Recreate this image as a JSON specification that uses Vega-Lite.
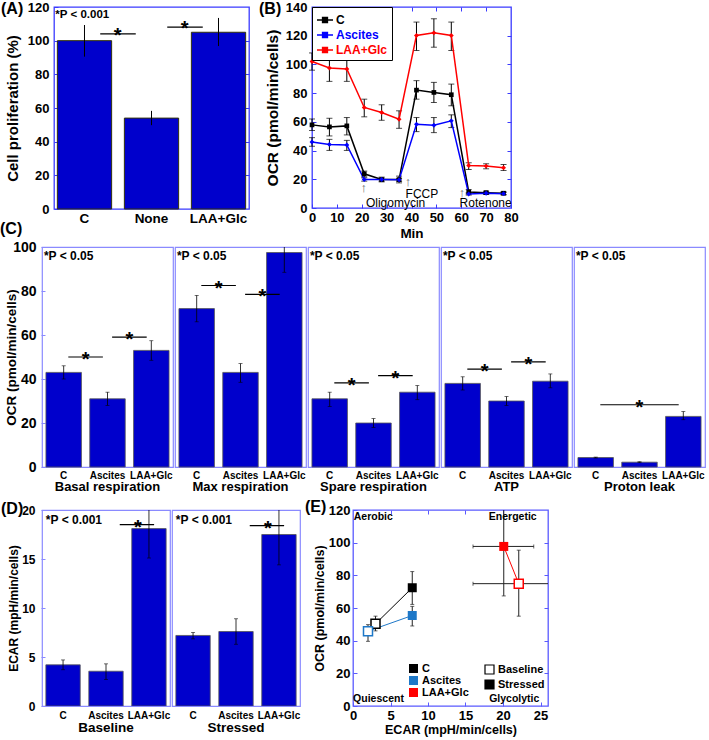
{
"$schema":"https://vega.github.io/schema/vega-lite/v6.json",
"padding":0,
"background":"white",
"config":{
 "font":"Liberation Sans",
 "axis":{"grid":false,"domain":false,"ticks":false,"labelFont":"Liberation Sans","titleFont":"Liberation Sans","labelFontWeight":"bold","titleFontWeight":"bold","labelColor":"#000000","titleColor":"#000000","labelFlush":false,"labelOverlap":false,"tickCount":12},
 "header":{"labelFont":"Liberation Sans","labelFontWeight":"bold","labelColor":"#000000"},
 "title":{"font":"Liberation Sans","fontWeight":"bold","fontSize":16,"color":"#000000","anchor":"start","frame":"group","offset":0},
 "legend":{"labelFont":"Liberation Sans","labelColor":"#000000"},
 "view":{"stroke":"#8a8aff","strokeWidth":1.2},
 "text":{"font":"Liberation Sans"}
},
"datasets":{
 "A":[
  {"group":"C","value":100,"lo":90.5,"hi":109.3},
  {"group":"None","value":54,"lo":49.8,"hi":58.3},
  {"group":"LAA+Glc","value":105,"lo":96.8,"hi":113.5}
 ],
 "Asig":[{"from":"C","to":"None","y":104},{"from":"None","to":"LAA+Glc","y":108}],
 "Anote":[{"group":"C","y":115,"label":"*P < 0.001"}],
 "B":[
  {"group":"C","t":0,"v":57.9,"lo":54,"hi":62},
  {"group":"C","t":7,"v":56.5,"lo":50.2,"hi":62.5},
  {"group":"C","t":14,"v":57.2,"lo":50.9,"hi":63},
  {"group":"C","t":21,"v":23.8,"lo":21.7,"hi":25.7},
  {"group":"C","t":28,"v":19.8,"lo":18.2,"hi":21.5},
  {"group":"C","t":35,"v":19.8,"lo":17.5,"hi":22.2},
  {"group":"C","t":42,"v":82.1,"lo":75.8,"hi":88.7},
  {"group":"C","t":49,"v":80.5,"lo":73.5,"hi":87.5},
  {"group":"C","t":56,"v":78.9,"lo":71.2,"hi":86.3},
  {"group":"C","t":63,"v":11.2,"lo":9.8,"hi":12.8},
  {"group":"C","t":70,"v":10.7,"lo":9.7,"hi":11.7},
  {"group":"C","t":77,"v":10.3,"lo":9.3,"hi":11.3},
  {"group":"Ascites","t":0,"v":46,"lo":43,"hi":49},
  {"group":"Ascites","t":7,"v":44.3,"lo":40.1,"hi":47.8},
  {"group":"Ascites","t":14,"v":43.9,"lo":40.1,"hi":47.1},
  {"group":"Ascites","t":21,"v":19.8,"lo":18.7,"hi":21},
  {"group":"Ascites","t":28,"v":19.8,"lo":18.8,"hi":20.8},
  {"group":"Ascites","t":35,"v":19.6,"lo":18.6,"hi":20.6},
  {"group":"Ascites","t":42,"v":58.3,"lo":53.2,"hi":63},
  {"group":"Ascites","t":49,"v":57.6,"lo":52.5,"hi":63},
  {"group":"Ascites","t":56,"v":60.7,"lo":56,"hi":64.9},
  {"group":"Ascites","t":63,"v":9.8,"lo":9,"hi":10.6},
  {"group":"Ascites","t":70,"v":10.3,"lo":9.5,"hi":11.1},
  {"group":"Ascites","t":77,"v":10,"lo":9.2,"hi":10.8},
  {"group":"LAA+Glc","t":0,"v":102,"lo":96,"hi":108},
  {"group":"LAA+Glc","t":7,"v":97.5,"lo":88.2,"hi":106.9},
  {"group":"LAA+Glc","t":14,"v":96.8,"lo":88.2,"hi":106.9},
  {"group":"LAA+Glc","t":21,"v":70,"lo":63.5,"hi":75.8},
  {"group":"LAA+Glc","t":28,"v":66.5,"lo":61.1,"hi":71.9},
  {"group":"LAA+Glc","t":35,"v":61.8,"lo":55.5,"hi":67.7},
  {"group":"LAA+Glc","t":42,"v":120.2,"lo":109.7,"hi":129.5},
  {"group":"LAA+Glc","t":49,"v":122,"lo":112,"hi":131.8},
  {"group":"LAA+Glc","t":56,"v":120.2,"lo":109.7,"hi":129.5},
  {"group":"LAA+Glc","t":63,"v":29.6,"lo":26.8,"hi":31.5},
  {"group":"LAA+Glc","t":70,"v":29.2,"lo":27.3,"hi":30.8},
  {"group":"LAA+Glc","t":77,"v":28,"lo":26.1,"hi":30.3}
 ],
 "Bnotes":[
  {"label":"↑","t":20.8,"v":14},
  {"label":"Oligomycin","t":33.6,"v":3.5},
  {"label":"↑","t":38.6,"v":18},
  {"label":"FCCP","t":44.2,"v":10},
  {"label":"↑","t":60.3,"v":10.5},
  {"label":"Rotenone","t":69.8,"v":3.5}
 ],
 "C":[
  {"kind":"bar","panel":"Basal respiration","group":"C","value":43,"lo":40,"hi":46},
  {"kind":"bar","panel":"Basal respiration","group":"Ascites","value":31,"lo":28,"hi":34},
  {"kind":"bar","panel":"Basal respiration","group":"LAA+Glc","value":53,"lo":48.5,"hi":57.4},
  {"kind":"bar","panel":"Max respiration","group":"C","value":72,"lo":66,"hi":78},
  {"kind":"bar","panel":"Max respiration","group":"Ascites","value":43,"lo":38.5,"hi":47},
  {"kind":"bar","panel":"Max respiration","group":"LAA+Glc","value":97.5,"lo":88.5,"hi":106},
  {"kind":"bar","panel":"Spare respiration","group":"C","value":31,"lo":27.5,"hi":34},
  {"kind":"bar","panel":"Spare respiration","group":"Ascites","value":20,"lo":18,"hi":22},
  {"kind":"bar","panel":"Spare respiration","group":"LAA+Glc","value":34,"lo":30.6,"hi":37},
  {"kind":"bar","panel":"ATP","group":"C","value":38,"lo":35,"hi":41},
  {"kind":"bar","panel":"ATP","group":"Ascites","value":30,"lo":28,"hi":32},
  {"kind":"bar","panel":"ATP","group":"LAA+Glc","value":39,"lo":36,"hi":42.3},
  {"kind":"bar","panel":"Proton leak","group":"C","value":4.3,"lo":4.1,"hi":4.5},
  {"kind":"bar","panel":"Proton leak","group":"Ascites","value":2.2,"lo":2,"hi":2.4},
  {"kind":"bar","panel":"Proton leak","group":"LAA+Glc","value":23,"lo":21.5,"hi":25.2},
  {"kind":"sig","panel":"Basal respiration","from":"C","to":"Ascites","y":50},
  {"kind":"sig","panel":"Basal respiration","from":"Ascites","to":"LAA+Glc","y":59},
  {"kind":"sig","panel":"Max respiration","from":"C","to":"Ascites","y":82.5},
  {"kind":"sig","panel":"Max respiration","from":"Ascites","to":"LAA+Glc","y":78.5},
  {"kind":"sig","panel":"Spare respiration","from":"C","to":"Ascites","y":38.2},
  {"kind":"sig","panel":"Spare respiration","from":"Ascites","to":"LAA+Glc","y":41.5},
  {"kind":"sig","panel":"ATP","from":"C","to":"Ascites","y":44.5},
  {"kind":"sig","panel":"ATP","from":"Ascites","to":"LAA+Glc","y":47.8},
  {"kind":"sig","panel":"Proton leak","from":"C","to":"LAA+Glc","mid":"Ascites","y":28.3},
  {"kind":"note","panel":"Basal respiration","group":"C","y":96,"label":"*P < 0.05"},
  {"kind":"note","panel":"Max respiration","group":"C","y":96,"label":"*P < 0.05"},
  {"kind":"note","panel":"Spare respiration","group":"C","y":96,"label":"*P < 0.05"},
  {"kind":"note","panel":"ATP","group":"C","y":96,"label":"*P < 0.05"},
  {"kind":"note","panel":"Proton leak","group":"C","y":96,"label":"*P < 0.05"}
 ],
 "D":[
  {"kind":"bar","panel":"Baseline","group":"C","value":4.2,"lo":3.7,"hi":4.7},
  {"kind":"bar","panel":"Baseline","group":"Ascites","value":3.55,"lo":2.7,"hi":4.3},
  {"kind":"bar","panel":"Baseline","group":"LAA+Glc","value":18.1,"lo":15.1,"hi":21.1},
  {"kind":"bar","panel":"Stressed","group":"C","value":7.2,"lo":6.85,"hi":7.5},
  {"kind":"bar","panel":"Stressed","group":"Ascites","value":7.6,"lo":6.3,"hi":8.9},
  {"kind":"bar","panel":"Stressed","group":"LAA+Glc","value":17.5,"lo":14.4,"hi":20.6},
  {"kind":"sig","panel":"Baseline","from":"Ascites","to":"LAA+Glc","y":18.5},
  {"kind":"sig","panel":"Stressed","from":"Ascites","to":"LAA+Glc","y":18.4},
  {"kind":"note","panel":"Baseline","group":"C","y":19,"label":"*P < 0.001"},
  {"kind":"note","panel":"Stressed","group":"C","y":19,"label":"*P < 0.001"}
 ],
 "E":[
  {"group":"C","cond":"Baseline","ecar":3,"ocr":50.3,"ylo":46,"yhi":55},
  {"group":"C","cond":"Stressed","ecar":7.9,"ocr":72.4,"ylo":62.2,"yhi":82.3},
  {"group":"Ascites","cond":"Baseline","ecar":2,"ocr":45.8,"ylo":39.6,"yhi":49.8},
  {"group":"Ascites","cond":"Stressed","ecar":7.9,"ocr":55.4,"ylo":49,"yhi":61},
  {"group":"LAA+Glc","cond":"Baseline","ecar":22.1,"ocr":74.9,"ylo":55,"yhi":95.4,"xlo":16,"xhi":28},
  {"group":"LAA+Glc","cond":"Stressed","ecar":20.1,"ocr":97.7,"ylo":67.4,"yhi":130,"xlo":16,"xhi":24.1}
 ],
 "Equad":[
  {"label":"Aerobic","ecar":2.7,"ocr":116},
  {"label":"Energetic","ecar":21.3,"ocr":116},
  {"label":"Quiescent","ecar":3.4,"ocr":4},
  {"label":"Glycolytic","ecar":21.5,"ocr":4}
 ]
},
"resolve":{"scale":{"color":"independent","fill":"independent","stroke":"independent","shape":"independent"},"legend":{"color":"independent","fill":"independent","stroke":"independent","shape":"independent"}},
"vconcat":[
 {"vconcat":[
  {"hconcat":[
   {"hconcat":[
    {"width":1,"height":1,"view":{"stroke":null},"data":{"values":[]},"mark":{"type":"text"},"encoding":{"text":{"value":""}}},
    {
    "width":195,"height":202,
    "view":{"stroke":"#3a3aff","strokeWidth":1.3},
    "title":{"text":"(A)","dx":-53,"dy":33,"baseline":"alphabetic"},
    "resolve":{"axis":{"y":"independent"}},
    "layer":[
     {"layer":[
     {"data":{"name":"A"},"mark":{"type":"bar","color":"#0000cc","stroke":"#33330a","strokeWidth":1},
      "encoding":{
       "x":{"field":"group","type":"nominal","scale":{"domain":["C","None","LAA+Glc"],"paddingInner":0.19,"paddingOuter":0.05},"axis":{"title":null,"labelAngle":0,"labelFontSize":13.5,"labelPadding":2}},
       "y":{"field":"value","type":"quantitative","title":"Cell proliferation (%)","scale":{"domain":[0,120]},"axis":{"values":[0,20,40,60,80,100,120],"tickCount":12,"labelOverlap":false,"labelFontSize":13,"titleFontSize":15,"ticks":true,"tickSize":-4,"tickColor":"#3a3aff","labelPadding":9,"titlePadding":7}}}},
     {"data":{"name":"A"},"mark":{"type":"rule","color":"black","strokeWidth":1},
      "encoding":{
       "x":{"field":"group","type":"nominal","bandPosition":0.5,"scale":{"domain":["C","None","LAA+Glc"]}},
       "y":{"field":"lo","type":"quantitative","title":"Cell proliferation (%)"},"y2":{"field":"hi"}}},
     {"data":{"name":"Asig"},"mark":{"type":"rule","color":"black","strokeWidth":1.2},
      "encoding":{
       "x":{"field":"from","type":"nominal","bandPosition":0.79,"scale":{"domain":["C","None","LAA+Glc"]}},
       "x2":{"field":"to","bandPosition":0.21},
       "y":{"field":"y","type":"quantitative","title":"Cell proliferation (%)"}}},
     {"data":{"name":"Asig"},"mark":{"type":"text","text":"*","fontSize":20,"fontWeight":"bold","baseline":"middle","dy":2,"color":"black"},
      "encoding":{
       "x":{"field":"from","type":"nominal","bandPosition":1.11,"scale":{"domain":["C","None","LAA+Glc"]}},
       "y":{"field":"y","type":"quantitative","title":"Cell proliferation (%)"}}},
     {"data":{"name":"Anote"},"mark":{"type":"text","align":"left","baseline":"middle","fontSize":11.5,"fontWeight":"bold","dx":-2,"color":"black"},
      "encoding":{
       "x":{"field":"group","type":"nominal","bandPosition":0,"scale":{"domain":["C","None","LAA+Glc"]}},
       "y":{"field":"y","type":"quantitative","title":"Cell proliferation (%)"},
       "text":{"field":"label"}}}
     ]},
     {"data":{"name":"A"},"mark":{"type":"rule","opacity":0},
      "encoding":{"y":{"field":"value","type":"quantitative","axis":{"orient":"right","title":null,"labels":false,"ticks":true,"tickSize":-4,"tickColor":"#3a3aff","values":[20,40,60,80,100],"tickCount":12}}}}
    ]
   }],"spacing":-43},
   {
    "width":199,"height":201,
    "view":{"stroke":"#3a3aff","strokeWidth":1.3},
    "title":{"text":"(B)","dx":-53,"dy":33,"baseline":"alphabetic"},
    "resolve":{"axis":{"x":"independent","y":"independent"}},
    "layer":[
     {"layer":[
     {"data":{"name":"B"},"mark":{"type":"errorbar","ticks":{"size":6},"color":"black","thickness":1},
      "encoding":{
       "x":{"field":"t","type":"quantitative","title":"Min","scale":{"domain":[0,80]},"axis":{"values":[0,10,20,30,40,50,60,70,80],"tickCount":12,"labelOverlap":false,"labelFontSize":13,"titleFontSize":13.5,"ticks":true,"tickSize":-4,"tickColor":"#3a3aff","labelPadding":7,"titlePadding":2}},
       "y":{"field":"lo","type":"quantitative","title":"OCR (pmol/min/cells)","scale":{"domain":[0,140]},"axis":{"values":[0,20,40,60,80,100,120,140],"tickCount":12,"labelOverlap":false,"labelFontSize":13,"titleFontSize":15.5,"ticks":true,"tickSize":-4,"tickColor":"#3a3aff","labelPadding":9,"titlePadding":5}},
       "y2":{"field":"hi"}}},
     {"data":{"name":"B"},"mark":{"type":"line","strokeWidth":1.5},
      "encoding":{
       "x":{"field":"t","type":"quantitative","title":"Min"},
       "y":{"field":"v","type":"quantitative","title":"OCR (pmol/min/cells)"},
       "color":{"field":"group","type":"nominal","scale":{"domain":["C","Ascites","LAA+Glc"],"range":["#000000","#0000ff","#ff0000"]},
        "legend":{"orient":"top-left","offset":0,"title":null,"padding":4,"strokeColor":"#000000","fillColor":"#ffffff","labelFontSize":12,"labelFontWeight":"bold","symbolType":"M-1,0L1,0M-0.3,-0.3L0.3,-0.3L0.3,0.3L-0.3,0.3Z","symbolSize":256,"symbolStrokeWidth":1.5,"rowPadding":0,"labelOffset":2,
         "encode":{"labels":{"update":{"fill":{"signal":"datum.label === 'C' ? '#000000' : datum.label === 'Ascites' ? '#0000ff' : '#ff0000'"}}},
                   "symbols":{"update":{"fill":{"signal":"datum.label === 'C' ? '#000000' : datum.label === 'Ascites' ? '#0000ff' : '#ff0000'"}}}}}}}},
     {"data":{"name":"B"},"transform":[{"filter":"datum.group === 'C'"}],"mark":{"type":"point","filled":true,"shape":"square","size":22,"color":"#000000","opacity":1},
      "encoding":{"x":{"field":"t","type":"quantitative","title":"Min"},"y":{"field":"v","type":"quantitative","title":"OCR (pmol/min/cells)"}}},
     {"data":{"name":"B"},"transform":[{"filter":"datum.group === 'Ascites'"}],"mark":{"type":"point","filled":true,"shape":"diamond","size":24,"color":"#0000ff","opacity":1},
      "encoding":{"x":{"field":"t","type":"quantitative","title":"Min"},"y":{"field":"v","type":"quantitative","title":"OCR (pmol/min/cells)"}}},
     {"data":{"name":"B"},"transform":[{"filter":"datum.group === 'LAA+Glc'"}],"mark":{"type":"point","filled":true,"shape":"diamond","size":24,"color":"#ff0000","opacity":1},
      "encoding":{"x":{"field":"t","type":"quantitative","title":"Min"},"y":{"field":"v","type":"quantitative","title":"OCR (pmol/min/cells)"}}},
     {"data":{"name":"Bnotes"},"transform":[{"filter":"datum.label !== '↑'"}],"mark":{"type":"text","fontSize":12,"baseline":"middle","color":"black"},
      "encoding":{"x":{"field":"t","type":"quantitative","title":"Min"},"y":{"field":"v","type":"quantitative","title":"OCR (pmol/min/cells)"},"text":{"field":"label"}}},
     {"data":{"name":"Bnotes"},"transform":[{"filter":"datum.label === '↑'"}],"mark":{"type":"text","fontSize":13,"baseline":"middle","color":"#666666"},
      "encoding":{"x":{"field":"t","type":"quantitative","title":"Min"},"y":{"field":"v","type":"quantitative","title":"OCR (pmol/min/cells)"},"text":{"field":"label"}}}
     ]},
     {"data":{"name":"B"},"mark":{"type":"point","opacity":0},
      "encoding":{
       "x":{"field":"t","type":"quantitative","axis":{"orient":"top","title":null,"labels":false,"ticks":true,"tickSize":-4,"tickColor":"#3a3aff","values":[10,20,30,40,50,60,70],"tickCount":12}},
       "y":{"field":"v","type":"quantitative","axis":{"orient":"right","title":null,"labels":false,"ticks":true,"tickSize":-4,"tickColor":"#3a3aff","values":[20,40,60,80,100,120],"tickCount":12}}}}
    ]
   }
  ],"spacing":7,
  "resolve":{"scale":{"color":"independent"},"legend":{"color":"independent"}}},
  {
   "data":{"name":"C"},
   "title":{"text":"(C)","dx":-42,"dy":12,"offset":2,"baseline":"alphabetic"},
   "facet":{"column":{"field":"panel","type":"nominal","sort":["Basal respiration","Max respiration","Spare respiration","ATP","Proton leak"],"header":{"title":null,"labelOrient":"bottom","labelFontSize":13,"labelPadding":1}}},
   "spacing":{"column":0},
   "spec":{
    "width":131,"height":220,
    "layer":[
     {"transform":[{"filter":"datum.kind === 'bar'"}],"mark":{"type":"bar","color":"#0000cc","stroke":"#555555","strokeWidth":0.8},
      "encoding":{
       "x":{"field":"group","type":"nominal","title":null,"scale":{"domain":["C","Ascites","LAA+Glc"],"paddingInner":0.19,"paddingOuter":0.09},"axis":{"labelAngle":0,"labelFontSize":10,"labelPadding":2}},
       "y":{"field":"value","type":"quantitative","title":"OCR (pmol/min/cells)","scale":{"domain":[0,100]},"axis":{"values":[0,20,40,60,80,100],"tickCount":12,"labelOverlap":false,"labelFontSize":14,"titleFontSize":13.5,"ticks":true,"tickSize":-4,"tickColor":"#8a8aff","labelPadding":9,"minExtent":22,"maxExtent":22,"titlePadding":1}}}},
     {"transform":[{"filter":"datum.kind === 'bar'"}],"mark":{"type":"errorbar","ticks":{"size":4},"color":"black","thickness":0.8,"clip":true},
      "encoding":{
       "x":{"field":"group","type":"nominal","title":null,"scale":{"domain":["C","Ascites","LAA+Glc"]}},
       "y":{"field":"lo","type":"quantitative","title":"OCR (pmol/min/cells)"},"y2":{"field":"hi"}}},
     {"transform":[{"filter":"datum.kind === 'sig'"}],"mark":{"type":"rule","color":"black","strokeWidth":1.2},
      "encoding":{
       "x":{"field":"from","type":"nominal","title":null,"bandPosition":0.63,"scale":{"domain":["C","Ascites","LAA+Glc"]}},
       "x2":{"field":"to","bandPosition":0.37},
       "y":{"field":"y","type":"quantitative","title":"OCR (pmol/min/cells)"}}},
     {"transform":[{"filter":"datum.kind === 'sig' && !datum.mid"}],"mark":{"type":"text","text":"*","fontSize":20,"fontWeight":"bold","baseline":"middle","dy":3,"color":"black"},
      "encoding":{
       "x":{"field":"from","type":"nominal","title":null,"bandPosition":1.118,"scale":{"domain":["C","Ascites","LAA+Glc"]}},
       "y":{"field":"y","type":"quantitative","title":"OCR (pmol/min/cells)"}}},
     {"transform":[{"filter":"datum.kind === 'sig' && datum.mid"}],"mark":{"type":"text","text":"*","fontSize":20,"fontWeight":"bold","baseline":"middle","dy":3,"color":"black"},
      "encoding":{
       "x":{"field":"mid","type":"nominal","title":null,"bandPosition":0.5,"scale":{"domain":["C","Ascites","LAA+Glc"]}},
       "y":{"field":"y","type":"quantitative","title":"OCR (pmol/min/cells)"}}},
     {"transform":[{"filter":"datum.kind === 'note'"}],"mark":{"type":"text","align":"left","baseline":"middle","fontSize":12,"fontWeight":"bold","dx":-2,"color":"black"},
      "encoding":{
       "x":{"field":"group","type":"nominal","title":null,"bandPosition":0,"scale":{"domain":["C","Ascites","LAA+Glc"]}},
       "y":{"field":"y","type":"quantitative","title":"OCR (pmol/min/cells)"},
       "text":{"field":"label"}}}
    ]
   }
  }
 ],"spacing":-20},
 {"hconcat":[
  {
   "data":{"name":"D"},
   "title":{"text":"(D)","dx":-41,"dy":30,"baseline":"alphabetic"},
   "facet":{"column":{"field":"panel","type":"nominal","sort":["Baseline","Stressed"],"header":{"title":null,"labelOrient":"bottom","labelFontSize":13.5,"labelPadding":1}}},
   "spacing":{"column":0},
   "spec":{
    "width":128,"height":196,
    "layer":[
     {"transform":[{"filter":"datum.kind === 'bar'"}],"mark":{"type":"bar","color":"#0000cc","stroke":"#555555","strokeWidth":0.8,"clip":true},
      "encoding":{
       "x":{"field":"group","type":"nominal","title":null,"scale":{"domain":["C","Ascites","LAA+Glc"],"paddingInner":0.2,"paddingOuter":0.09},"axis":{"labelAngle":0,"labelFontSize":10,"labelPadding":3}},
       "y":{"field":"value","type":"quantitative","title":"ECAR (mpH/min/cells)","scale":{"domain":[0,20]},"axis":{"values":[0,5,10,15,20],"tickCount":12,"labelOverlap":false,"labelFontSize":12,"titleFontSize":12,"ticks":true,"tickSize":-4,"tickColor":"#8a8aff","labelPadding":10,"titlePadding":1}}}},
     {"transform":[{"filter":"datum.kind === 'bar'"}],"mark":{"type":"errorbar","ticks":{"size":4},"color":"black","thickness":0.8,"clip":true},
      "encoding":{
       "x":{"field":"group","type":"nominal","title":null,"scale":{"domain":["C","Ascites","LAA+Glc"]}},
       "y":{"field":"lo","type":"quantitative","title":"ECAR (mpH/min/cells)"},"y2":{"field":"hi"}}},
     {"transform":[{"filter":"datum.kind === 'sig'"}],"mark":{"type":"rule","color":"black","strokeWidth":1.2},
      "encoding":{
       "x":{"field":"from","type":"nominal","title":null,"bandPosition":0.9,"scale":{"domain":["C","Ascites","LAA+Glc"]}},
       "x2":{"field":"to","bandPosition":0.65},
       "y":{"field":"y","type":"quantitative","title":"ECAR (mpH/min/cells)"}}},
     {"transform":[{"filter":"datum.kind === 'sig'"}],"mark":{"type":"text","text":"*","fontSize":20,"fontWeight":"bold","baseline":"middle","dy":3,"color":"black"},
      "encoding":{
       "x":{"field":"to","type":"nominal","title":null,"bandPosition":0.18,"scale":{"domain":["C","Ascites","LAA+Glc"]}},
       "y":{"field":"y","type":"quantitative","title":"ECAR (mpH/min/cells)"}}},
     {"transform":[{"filter":"datum.kind === 'note'"}],"mark":{"type":"text","align":"left","baseline":"middle","fontSize":12,"fontWeight":"bold","dx":0,"color":"black"},
      "encoding":{
       "x":{"field":"group","type":"nominal","title":null,"bandPosition":0,"scale":{"domain":["C","Ascites","LAA+Glc"]}},
       "y":{"field":"y","type":"quantitative","title":"ECAR (mpH/min/cells)"},
       "text":{"field":"label"}}}
    ]
   }
  },
  {
   "width":195,"height":196,
   "view":{"stroke":"#5a5aff","strokeWidth":1.3},
   "title":{"text":"(E)","dx":-48,"dy":27.5,"baseline":"alphabetic"},
   "resolve":{"axis":{"x":"independent","y":"independent"}},
   "layer":[
    {"layer":[
    {"data":{"name":"E"},"mark":{"type":"line","strokeWidth":1},
     "encoding":{
      "x":{"field":"ecar","type":"quantitative","title":"ECAR (mpH/min/cells)","scale":{"domain":[0,25]},"axis":{"values":[0,5,10,15,20,25],"tickCount":12,"labelOverlap":false,"labelFontSize":13,"titleFontSize":12.5,"ticks":true,"tickSize":-4,"tickColor":"#5a5aff","labelPadding":7,"titlePadding":1}},
      "y":{"field":"ocr","type":"quantitative","title":"OCR (pmol/min/cells)","scale":{"domain":[0,120]},"axis":{"values":[0,20,40,60,80,100,120],"tickCount":12,"labelOverlap":false,"labelFontSize":13,"titleFontSize":12.5,"ticks":true,"tickSize":-4,"tickColor":"#5a5aff","labelPadding":7,"titlePadding":2}},
      "color":{"field":"group","type":"nominal","scale":{"domain":["C","Ascites","LAA+Glc"],"range":["#000000","#1e78c8","#ff0000"]},
       "legend":{"orient":"none","legendX":55,"legendY":153,"title":null,"symbolType":"square","symbolSize":81,"symbolStrokeWidth":0,"labelFontSize":11,"labelFontWeight":"bold","rowPadding":0,"padding":0,"labelOffset":3,
        "encode":{"symbols":{"update":{"fill":{"signal":"datum.label === 'C' ? '#000000' : datum.label === 'Ascites' ? '#1e78c8' : '#ff0000'"},"opacity":{"value":1},"fillOpacity":{"value":1},"strokeWidth":{"value":0}}}}}},
      "order":{"field":"cond"}}},
    {"data":{"name":"E"},"mark":{"type":"errorbar","ticks":{"size":4},"color":"#222222","thickness":1,"clip":true},
     "encoding":{
      "x":{"field":"ecar","type":"quantitative","title":"ECAR (mpH/min/cells)"},
      "y":{"field":"ylo","type":"quantitative","title":"OCR (pmol/min/cells)"},"y2":{"field":"yhi"}}},
    {"data":{"name":"E"},"transform":[{"filter":{"field":"xlo","valid":true}}],"mark":{"type":"errorbar","ticks":{"size":4},"color":"#222222","thickness":1,"clip":true},
     "encoding":{
      "y":{"field":"ocr","type":"quantitative","title":"OCR (pmol/min/cells)"},
      "x":{"field":"xlo","type":"quantitative","title":"ECAR (mpH/min/cells)"},"x2":{"field":"xhi"}}},
    {"data":{"name":"E"},"transform":[{"filter":"datum.cond === 'Baseline'"}],"mark":{"type":"point","filled":false,"fill":"#ffffff","strokeWidth":1.5,"size":81,"opacity":1},
     "encoding":{
      "x":{"field":"ecar","type":"quantitative","title":"ECAR (mpH/min/cells)"},
      "y":{"field":"ocr","type":"quantitative","title":"OCR (pmol/min/cells)"},
      "color":{"field":"group","type":"nominal","scale":{"domain":["C","Ascites","LAA+Glc"],"range":["#000000","#1e78c8","#ff0000"]}},
      "shape":{"field":"cond","type":"nominal","scale":{"domain":["Baseline","Stressed"],"range":["square","square"]},
       "legend":{"orient":"none","legendX":131,"legendY":154,"title":null,"symbolType":"square","symbolSize":81,"symbolFillColor":"#000000","symbolStrokeColor":"#000000","symbolStrokeWidth":1.2,"symbolOpacity":1,"labelFontSize":11,"labelFontWeight":"bold","rowPadding":0,"padding":0,"labelOffset":3,
        "encode":{"symbols":{"update":{"fill":{"signal":"datum.label === 'Baseline' ? '#ffffff' : '#000000'"},"stroke":{"value":"#000000"},"strokeWidth":{"value":1.2},"opacity":{"value":1},"fillOpacity":{"value":1},"strokeOpacity":{"value":1}}}}}}}},
    {"data":{"name":"E"},"transform":[{"filter":"datum.cond === 'Stressed'"}],"mark":{"type":"point","filled":true,"size":81,"opacity":1},
     "encoding":{
      "x":{"field":"ecar","type":"quantitative","title":"ECAR (mpH/min/cells)"},
      "y":{"field":"ocr","type":"quantitative","title":"OCR (pmol/min/cells)"},
      "color":{"field":"group","type":"nominal","scale":{"domain":["C","Ascites","LAA+Glc"],"range":["#000000","#1e78c8","#ff0000"]}},
      "shape":{"field":"cond","type":"nominal","scale":{"domain":["Baseline","Stressed"],"range":["square","square"]},
       "legend":{"orient":"none","legendX":131,"legendY":154,"title":null,"symbolType":"square","symbolSize":81,"symbolFillColor":"#000000","symbolStrokeColor":"#000000","symbolStrokeWidth":1.2,"symbolOpacity":1,"labelFontSize":11,"labelFontWeight":"bold","rowPadding":0,"padding":0,"labelOffset":3,
        "encode":{"symbols":{"update":{"fill":{"signal":"datum.label === 'Baseline' ? '#ffffff' : '#000000'"},"stroke":{"value":"#000000"},"strokeWidth":{"value":1.2},"opacity":{"value":1},"fillOpacity":{"value":1},"strokeOpacity":{"value":1}}}}}}}},
    {"data":{"name":"Equad"},"mark":{"type":"text","fontSize":10.5,"fontWeight":"bold","baseline":"middle","color":"black"},
     "encoding":{"x":{"field":"ecar","type":"quantitative","title":"ECAR (mpH/min/cells)"},"y":{"field":"ocr","type":"quantitative","title":"OCR (pmol/min/cells)"},"text":{"field":"label"}}}
    ]},
    {"data":{"name":"E"},"mark":{"type":"point","opacity":0},
     "encoding":{
      "x":{"field":"ecar","type":"quantitative","axis":{"orient":"top","title":null,"labels":false,"ticks":true,"tickSize":-4,"tickColor":"#5a5aff","values":[5,10,15,20],"tickCount":12}},
      "y":{"field":"ocr","type":"quantitative","axis":{"orient":"right","title":null,"labels":false,"ticks":true,"tickSize":-4,"tickColor":"#5a5aff","values":[20,40,60,80,100],"tickCount":12}}}}
   ]
  }
 ],"spacing":3,
 "resolve":{"scale":{"color":"independent","shape":"independent"},"legend":{"color":"independent","shape":"independent"}}}
],
"spacing":3
}
